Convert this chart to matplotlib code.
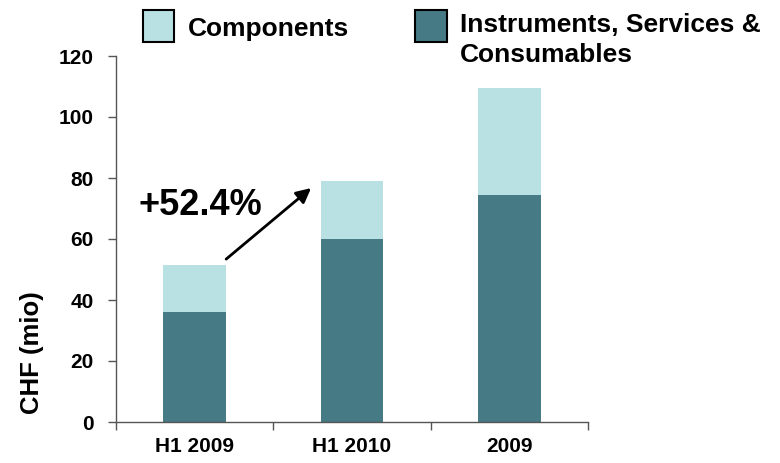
import matplotlib
matplotlib.use("Agg")
import matplotlib.pyplot as plt
from matplotlib.patches import Rectangle
import numpy as np

plt.rcParams['font.family'] = ['Liberation Sans', 'DejaVu Sans']
plt.rcParams['font.weight'] = 'bold'

categories = ["H1 2009", "H1 2010", "2009"]
instruments = [36, 60, 74.5]
components = [15.5, 19, 35]
growth_label = "+52.4%"

light = "#B9E0E3"
dark = "#467A84"

W, H = 780, 463
fig = plt.figure(figsize=(W / 100, H / 100), dpi=100)
ax = fig.add_axes([116 / W, 1 - 422 / H, 472 / W, 366 / H])

x = np.arange(len(categories))
w = 0.40
ax.bar(x, instruments, width=w, color=dark, edgecolor='none', zorder=2)
ax.bar(x, components, width=w, bottom=instruments, color=light, edgecolor='none', zorder=2)

ax.set_xlim(-0.5, len(categories) - 0.5)
ax.set_ylim(0, 120)
ax.set_yticks(np.arange(0, 121, 20))
ax.set_xticks(x)
ax.set_xticklabels(categories, fontsize=15, fontweight='bold')
ax.set_xticks(np.arange(-0.5, len(categories), 1.0), minor=True)
ax.tick_params(axis='x', which='major', length=0, pad=11)
ax.tick_params(axis='x', which='minor', length=6, width=1, color='#555555', direction='out')
ax.tick_params(axis='y', length=6, width=1, color='#555555', direction='out', labelsize=15, pad=10)
for lab in ax.get_yticklabels():
    lab.set_fontweight('bold')
for s in ['top', 'right']:
    ax.spines[s].set_visible(False)
for s in ['left', 'bottom']:
    ax.spines[s].set_color('#555555')
    ax.spines[s].set_linewidth(1)
ax.set_ylabel("CHF (mio)", fontsize=18.5, fontweight='bold')
ax.yaxis.set_label_coords(-0.152, 0.19)

# growth arrow between the first two periods
ax.annotate("", xy=(0.74, 76.7), xytext=(0.20, 53.4),
            arrowprops=dict(arrowstyle='-|>', color='black', lw=2,
                            mutation_scale=22, shrinkA=0, shrinkB=0))
ax.text(-0.355, 71, growth_label, fontsize=26, fontweight='bold',
        ha='left', va='center')

# legend
fig.patches.append(Rectangle((143 / W, 1 - 42 / H), 31 / W, 32 / H,
                             transform=fig.transFigure, facecolor=light,
                             edgecolor='black', lw=1.5))
fig.text(188 / W, 1 - 36 / H, "Components", fontsize=19, fontweight='bold',
         ha='left', va='baseline')
fig.patches.append(Rectangle((415 / W, 1 - 42 / H), 32 / W, 32 / H,
                             transform=fig.transFigure, facecolor=dark,
                             edgecolor='black', lw=1.5))
fig.text(460 / W, 1 - 32 / H, "Instruments, Services &", fontsize=19,
         fontweight='bold', ha='left', va='baseline')
fig.text(460 / W, 1 - 62 / H, "Consumables", fontsize=19,
         fontweight='bold', ha='left', va='baseline')

fig.savefig("out.png", dpi=100)
